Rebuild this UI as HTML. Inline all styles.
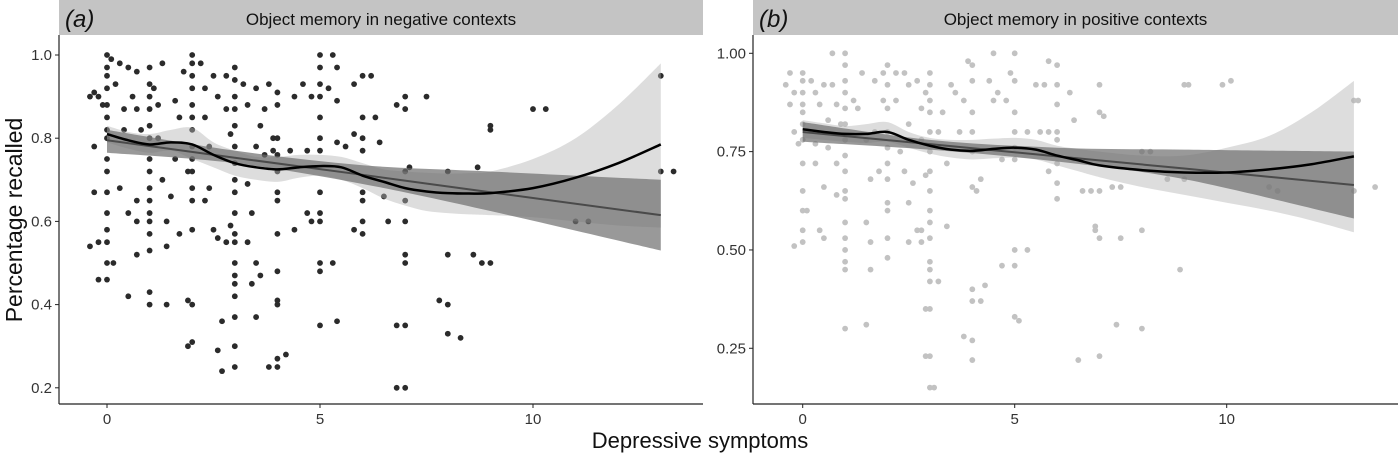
<!DOCTYPE html>
<html><head><meta charset="utf-8">
<style>
body{margin:0;background:#fff;}
svg{display:block;font-family:"Liberation Sans",sans-serif;}
</style></head>
<body>
<svg id="chart" width="1400" height="459" viewBox="0 0 1400 459">
<text x="22" y="220" font-size="23" text-anchor="middle" transform="rotate(-90 22 220)" fill="#111">Percentage recalled</text>
<text x="700" y="448" font-size="22" text-anchor="middle" fill="#111">Depressive symptoms</text>
</svg>
<script>
// ---------- Panel A data ----------
const aPointsX=[-0.4,-0.3,-0.2,-0.1,0,0,0,0,0,0,0,0,0,0,0,0,0,0,0,0,-0.3,-0.3,-0.2,-0.4,-0.2,0.1,0.15,0.3,0.2,0.4,0.5,0.3,0.5,0.7,0.6,0.7,0.8,0.7,0.7,0.7,0.5,0.4,
1,1,1,1,1,1,1,1,1,1,1,1,1,1,1,1,1.1,1.2,1.2,1.3,1.3,1.4,1.4,1.4,1.5,1.6,1.6,1.7,1.7,1.8,1.9,1.9,2,2,2,2,2,2,2,2,2,2,2,2,2,2,2,1.9,2.2,2.3,2.3,2.4,2.3,2.4,2.5,2.6,2.5,2.6,2.7,2.6,2.7,2.8,2.8,2.9,2.8,2.9,
3,3,3,3,3,3,3,3,3,3,3,3,3,3,3,3,3,3,3,3.2,3.3,3.3,3.3,3.4,3.4,3.5,3.5,3.5,3.5,3.6,3.6,3.7,3.7,3.8,3.9,3.9,4,4,4,4,4,4,4,4,4,4,4,4,4,3.8,4.2,4.3,4.4,4.4,4.6,4.7,4.8,4.7,4.8,5,5,5,5,5,5,5,5,5,5,5,5,5,5.2,5.3,5.3,5.4,5.4,5.4,5.4,5.6,5.8,5.8,5.8,6,6,6,6,6,6,6,6,6.2,6.3,6.4,6.5,6.6,6.8,6.8,6.8,7,7,7,7,7,7,7,7,7,7.1,7.5,7.8,8,8,8,8,8.3,8.6,8.7,8.8,9,9,9,10,10.3,11,11.3,13,13,13.3];
const aPointsY=[0.9,0.91,0.9,0.88,1.0,0.97,0.95,0.92,0.88,0.85,0.82,0.8,0.75,0.72,0.67,0.62,0.58,0.55,0.5,0.46,0.78,0.67,0.55,0.54,0.46,0.99,0.5,0.98,0.93,0.87,0.97,0.68,0.62,0.96,0.9,0.87,0.82,0.65,0.6,0.52,0.42,0.82,
0.97,0.93,0.9,0.87,0.83,0.8,0.75,0.72,0.68,0.65,0.62,0.6,0.57,0.53,0.43,0.4,0.92,0.88,0.8,0.98,0.7,0.6,0.54,0.4,0.66,0.89,0.75,0.85,0.57,0.96,0.72,0.41,1.0,0.98,0.95,0.92,0.88,0.85,0.82,0.78,0.75,0.72,0.68,0.65,0.58,0.4,0.31,0.3,0.98,0.92,0.85,0.78,0.65,0.68,0.95,0.9,0.58,0.56,0.36,0.29,0.24,0.95,0.87,0.81,0.55,0.59,
0.97,0.94,0.9,0.87,0.83,0.78,0.74,0.7,0.67,0.62,0.57,0.55,0.5,0.47,0.45,0.42,0.37,0.3,0.25,0.93,0.88,0.69,0.55,0.62,0.45,0.92,0.78,0.5,0.37,0.83,0.47,0.87,0.76,0.93,0.8,0.77,0.91,0.88,0.8,0.76,0.72,0.67,0.65,0.57,0.48,0.41,0.4,0.27,0.25,0.25,0.28,0.77,0.9,0.58,0.93,0.77,0.9,0.62,0.6,1.0,0.97,0.93,0.9,0.85,0.8,0.77,0.67,0.62,0.6,0.5,0.48,0.35,0.92,1.0,0.5,0.97,0.89,0.79,0.36,0.78,0.93,0.81,0.58,0.95,0.85,0.8,0.77,0.67,0.65,0.6,0.57,0.95,0.85,0.79,0.66,0.6,0.88,0.35,0.2,0.9,0.87,0.72,0.65,0.6,0.52,0.5,0.35,0.2,0.73,0.9,0.41,0.72,0.52,0.4,0.33,0.32,0.52,0.73,0.5,0.83,0.82,0.5,0.87,0.87,0.6,0.6,0.95,0.72,0.72];
const aLoessX=[0,0.5,1,1.5,2,2.5,3,3.5,4,4.5,5,5.5,6,6.5,7,7.5,8,8.5,9,10,11,12,13];
const aLoessY=[0.81,0.795,0.785,0.79,0.785,0.76,0.74,0.73,0.725,0.73,0.733,0.73,0.71,0.695,0.68,0.672,0.668,0.667,0.668,0.68,0.705,0.74,0.785];
const aLoessHi=[0.83,0.815,0.81,0.82,0.825,0.79,0.77,0.755,0.755,0.76,0.76,0.755,0.74,0.725,0.72,0.717,0.715,0.716,0.72,0.75,0.8,0.88,0.98];
const aLoessLo=[0.79,0.775,0.765,0.77,0.75,0.73,0.71,0.7,0.695,0.705,0.71,0.7,0.68,0.655,0.638,0.625,0.62,0.617,0.615,0.61,0.6,0.59,0.585];
const aLinX=[0,3,6,9,13];
const aLinY=[0.795,0.753,0.712,0.67,0.615];
const aLinHi=[0.82,0.77,0.735,0.72,0.70];
const aLinLo=[0.765,0.74,0.69,0.625,0.53];
const aYTicks=[0.2,0.4,0.6,0.8,1.0];
const aYLabels=["0.2","0.4","0.6","0.8","1.0"];
// ---------- Panel B data ----------
const bPointsX=[-0.4,-0.3,-0.2,-0.3,-0.2,-0.1,0,0,0,0,0,0,0,0,0,0,0,0,-0.2,0.1,0.2,0.3,0.4,0.5,0.3,0.3,0.5,0.4,0.5,0.6,0.7,0.8,0.6,0.8,0.8,0.9,0.7,1,1,1,1,1,1,1,1,1,1,1,1,1,1,1,1,1,1.2,1.3,1.4,1.5,1.5,1.6,1.6,1.6,1.5,1.7,1.7,1.8,1.9,1.9,2,2,2,2,2,2,2,2,2,2,2,2.2,2.2,2.3,2.4,2.5,2.5,2.4,2.5,2.5,2.6,2.7,2.7,2.8,2.8,2.9,2.9,2.8,2.8,3,3,3,3,3,3,3,3,3,3,3,3,3,3,3,3,3,2.9,2.9,3.1,3.2,3.3,3.2,3.4,3.4,3.5,3.6,3.7,3.8,3.9,3.8,4,4,4,4,4,4,4,4,4,4,4.1,4.2,4.2,4.3,4.4,4.5,4.5,4.6,4.7,4.7,4.8,4.9,5,5,5,5,5,5,5,5,5,5.1,5.3,5.3,5.5,5.6,5.7,5.8,5.8,5.8,6,6,6,6,6,6,6,6,6.3,6.4,6.6,6.8,6.9,6.9,6.5,7,7,7,7,7,7.1,7.3,7.5,7.5,7.4,8,8,8,8.2,8.6,9,9,8.9,9.1,9.9,10.1,11,11.2,13,13,13.1,13.5];
const bPointsY=[0.92,0.95,0.9,0.87,0.8,0.77,0.95,0.93,0.9,0.87,0.85,0.82,0.78,0.72,0.65,0.6,0.55,0.52,0.51,0.6,0.93,0.9,0.87,0.92,0.77,0.72,0.66,0.55,0.53,0.83,0.92,0.87,0.76,0.72,0.64,0.82,1.0,1.0,0.97,0.93,0.9,0.86,0.82,0.78,0.74,0.7,0.65,0.63,0.57,0.53,0.5,0.47,0.45,0.3,0.88,0.86,0.95,0.78,0.57,0.68,0.52,0.45,0.31,0.93,0.8,0.7,0.95,0.88,0.97,0.92,0.86,0.8,0.76,0.72,0.68,0.62,0.6,0.53,0.48,0.95,0.88,0.75,0.95,0.92,0.82,0.7,0.62,0.52,0.67,0.93,0.55,0.86,0.78,0.9,0.69,0.55,0.52,0.95,0.92,0.88,0.85,0.8,0.75,0.7,0.65,0.6,0.57,0.53,0.47,0.45,0.42,0.35,0.23,0.15,0.35,0.23,0.15,0.8,0.85,0.42,0.72,0.56,0.92,0.9,0.8,0.88,0.98,0.28,0.97,0.93,0.85,0.8,0.75,0.66,0.4,0.37,0.27,0.22,0.65,0.37,0.68,0.41,0.93,1.0,0.88,0.9,0.73,0.46,0.88,0.95,1.0,0.93,0.85,0.8,0.76,0.73,0.5,0.46,0.33,0.32,0.8,0.5,0.92,0.8,0.92,0.8,0.98,0.7,0.97,0.92,0.87,0.8,0.78,0.72,0.67,0.63,0.9,0.83,0.65,0.65,0.55,0.56,0.22,0.85,0.92,0.65,0.53,0.23,0.84,0.66,0.66,0.53,0.31,0.75,0.55,0.3,0.75,0.68,0.92,0.68,0.45,0.92,0.92,0.93,0.66,0.65,0.88,0.65,0.88,0.66];
const bLoessX=[0,0.5,1,1.5,2,2.5,3,3.5,4,4.5,5,5.5,6,6.5,7,8,9,10,11,12,13];
const bLoessY=[0.807,0.8,0.795,0.795,0.8,0.78,0.765,0.755,0.752,0.757,0.76,0.755,0.74,0.728,0.715,0.703,0.697,0.697,0.705,0.718,0.738];
const bLoessHi=[0.83,0.822,0.815,0.82,0.825,0.8,0.785,0.78,0.78,0.783,0.785,0.78,0.765,0.757,0.75,0.74,0.74,0.76,0.79,0.85,0.93];
const bLoessLo=[0.785,0.78,0.775,0.772,0.775,0.76,0.745,0.735,0.73,0.733,0.735,0.73,0.715,0.7,0.685,0.66,0.64,0.62,0.6,0.575,0.545];
const bLinX=[0,3,6,9,13];
const bLinY=[0.8,0.769,0.738,0.707,0.665];
const bLinHi=[0.825,0.78,0.76,0.755,0.75];
const bLinLo=[0.775,0.755,0.725,0.68,0.58];
const bYTicks=[0.25,0.5,0.75,1.0];
const bYLabels=["0.25","0.50","0.75","1.00"];
const xTicks=[0,5,10];

const NS="http://www.w3.org/2000/svg";
const svg=document.getElementById('chart');
function mk(tag,attrs,parent){const e=document.createElementNS(NS,tag);for(const k in attrs)e.setAttribute(k,attrs[k]);(parent||svg).appendChild(e);return e;}
// Catmull-Rom smooth path through points (continuing an existing path)
function smooth(pts,start){
  let d=start?('M'+pts[0][0]+','+pts[0][1]):(' L'+pts[0][0]+','+pts[0][1]);
  for(let i=0;i<pts.length-1;i++){
    const p0=pts[i-1]||pts[i],p1=pts[i],p2=pts[i+1],p3=pts[i+2]||p2;
    const c1x=p1[0]+(p2[0]-p0[0])/6,c1y=p1[1]+(p2[1]-p0[1])/6;
    const c2x=p2[0]-(p3[0]-p1[0])/6,c2y=p2[1]-(p3[1]-p1[1])/6;
    d+=' C'+c1x+','+c1y+' '+c2x+','+c2y+' '+p2[0]+','+p2[1];
  }
  return d;
}

function panel(cfg){
  const g=mk('g',{});
  
  
  const sx=v=>cfg.x0+v*cfg.kx;
  const sy=v=>cfg.yRef+(cfg.vRef-v)*cfg.ky;
  const strip=mk('rect',{x:cfg.left,y:0,width:cfg.right-cfg.left,height:35,fill:'#c4c4c4'},g);
  
  
  const lab=mk('text',{x:cfg.left+6,y:27,'font-size':24,'font-style':'italic',fill:'#111'},g);
  lab.textContent=cfg.letter;
  
  
  const ttl=mk('text',{x:(cfg.left+cfg.right)/2,y:25,'font-size':17,'text-anchor':'middle',fill:'#111'},g);
  ttl.textContent=cfg.title;
  
  
  for(let i=0;i<cfg.px.length;i++){
    const c=mk('circle',{cx:sx(cfg.px[i]),cy:sy(cfg.py[i]),r:2.9,fill:cfg.ptColor},g);
    
    
  }
  const band=(xs,hi,lo,fill,op,nm,sm)=>{
    const up=xs.map((x,i)=>[sx(x),sy(hi[i])]);
    const dn=xs.map((x,i)=>[sx(x),sy(lo[i])]).reverse();
    let d=sm?smooth(up,true)+smooth(dn,false):'M'+up.concat(dn).map(p=>p[0]+','+p[1]).join(' L');
    const p=mk('path',{d:d+'Z',fill:fill,'fill-opacity':op},g);
    
    
  };
  const line=(xs,ys,col,w,nm,sm)=>{
    const pts=xs.map((x,i)=>[sx(x),sy(ys[i])]);
    const d=sm?smooth(pts,true):'M'+pts.map(p=>p[0]+','+p[1]).join(' L');
    const p=mk('path',{d:d,fill:'none',stroke:col,'stroke-width':w,'stroke-linejoin':'round'},g);
    
    
  };
  band(cfg.lx,cfg.lhi,cfg.llo,'#b4b4b4',0.45,'loess-ci-band',true);
  band(cfg.nx,cfg.nhi,cfg.nlo,'#6e6e6e',0.7,'linear-ci-band',true);
  line(cfg.nx,cfg.ny,'#4a4a4a',2,'linear-fit-line',false);
  line(cfg.lx,cfg.ly,'#000',2.5,'loess-fit-line',true);
  mk('line',{x1:cfg.left,y1:35,x2:cfg.left,y2:404,stroke:'#222','stroke-width':1.2},g);
  mk('line',{x1:cfg.left,y1:404,x2:cfg.right,y2:404,stroke:'#222','stroke-width':1.2},g);
  cfg.yt.forEach((v,i)=>{
    mk('line',{x1:cfg.left-4,y1:sy(v),x2:cfg.left,y2:sy(v),stroke:'#222'},g);
    const t=mk('text',{x:cfg.left-7,y:sy(v)+5,'font-size':15,'text-anchor':'end',fill:'#333'},g);
    t.textContent=cfg.yl[i];
    
    
  });
  xTicks.forEach(v=>{
    mk('line',{x1:sx(v),y1:404,x2:sx(v),y2:408,stroke:'#222'},g);
    const t=mk('text',{x:sx(v),y:424,'font-size':15,'text-anchor':'middle',fill:'#333'},g);
    t.textContent=String(v);
    
    
  });
}
panel({name:'panel-a-negative',letter:'(a)',title:'Object memory in negative contexts',left:59,right:703,x0:107,kx:42.6,yRef:55,vRef:1.0,ky:416,
  px:aPointsX,py:aPointsY,ptColor:'#2b2b2b',lx:aLoessX,ly:aLoessY,lhi:aLoessHi,llo:aLoessLo,nx:aLinX,ny:aLinY,nhi:aLinHi,nlo:aLinLo,yt:aYTicks,yl:aYLabels});
panel({name:'panel-b-positive',letter:'(b)',title:'Object memory in positive contexts',left:753,right:1398,x0:802.7,kx:42.4,yRef:53.3,vRef:1.0,ky:393.3,
  px:bPointsX,py:bPointsY,ptColor:'#c2c2c2',lx:bLoessX,ly:bLoessY,lhi:bLoessHi,llo:bLoessLo,nx:bLinX,ny:bLinY,nhi:bLinHi,nlo:bLinLo,yt:bYTicks,yl:bYLabels});
</script>
</body></html>
